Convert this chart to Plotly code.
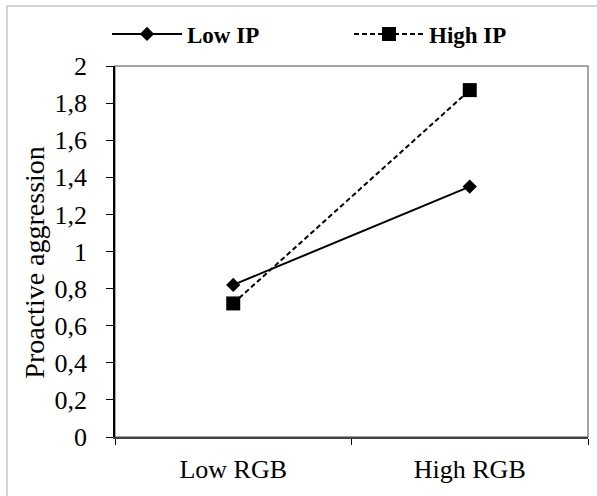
import plotly.graph_objects as go

categories = ["Low RGB", "High RGB"]
low_ip = [0.82, 1.35]
high_ip = [0.72, 1.87]
y_tickvals = [0, 0.2, 0.4, 0.6, 0.8, 1.0, 1.2, 1.4, 1.6, 1.8, 2.0]
y_ticktext = ["0", "0,2", "0,4", "0,6", "0,8", "1", "1,2", "1,4", "1,6", "1,8", "2"]
y_title = "Proactive aggression"

FONT = "Liberation Serif, Times New Roman, serif"

fig = go.Figure()
fig.add_trace(go.Scatter(
    x=categories, y=low_ip, name="Low IP", mode="lines+markers",
    line=dict(color="black", width=2),
    marker=dict(symbol="diamond", size=11, color="black"),
))
fig.add_trace(go.Scatter(
    x=categories, y=high_ip, name="High IP", mode="lines+markers",
    line=dict(color="black", width=2, dash="5px,3px"),
    marker=dict(symbol="square", size=14, color="black"),
))

W, H = 597, 496
L, R, T, B = 115, 9, 66, 59
PW, PH = W - L - R, H - T - B

fig.update_layout(
    width=W, height=H,
    margin=dict(l=L, r=R, t=T, b=B, pad=0, autoexpand=False),
    paper_bgcolor="white", plot_bgcolor="white",
    font=dict(family=FONT, color="black", size=26),
    showlegend=True,
    legend=dict(
        orientation="h", x=(107 - L) / PW, xanchor="left",
        y=1 + (T - 34) / PH, yanchor="middle",
        font=dict(family=FONT, size=23, color="black", weight="bold"),
        itemwidth=70, entrywidth=157, entrywidthmode="pixels",
        bgcolor="rgba(0,0,0,0)", tracegroupgap=0,
    ),
    xaxis=dict(
        type="category", range=[-0.5, 1.5], tickson="boundaries",
        showline=True, linecolor="#404040", linewidth=2,
        ticks="outside", ticklen=6, tickcolor="black", tickwidth=1,
        showgrid=False, zeroline=False, automargin=False,
        tickfont=dict(family=FONT, size=26, color="black"),
        ticklabelstandoff=8,
    ),
    yaxis=dict(
        range=[0, 2], tickvals=y_tickvals, ticktext=y_ticktext,
        showline=True, linecolor="black", linewidth=1.5,
        ticks="outside", ticklen=7, tickcolor="black", tickwidth=1,
        showgrid=False, zeroline=False, automargin=False,
        tickfont=dict(family=FONT, size=26, color="black"),
        ticklabelstandoff=14,
    ),
    annotations=[
        dict(text=y_title, xref="paper", yref="paper",
             x=(35 - L) / PW, y=0.47, xanchor="center", yanchor="middle",
             textangle=-90, showarrow=False,
             font=dict(family=FONT, size=28, color="black")),
    ],
    shapes=[
        dict(type="rect", xref="paper", yref="paper", x0=0, x1=1, y0=0, y1=1,
             line=dict(color="#888888", width=1.5), layer="below"),
        dict(type="rect", xref="paper", yref="paper",
             x0=(7 - L) / PW, x1=(W + 20 - L) / PW,
             y0=-(B + 20) / PH, y1=1 + (T - 6) / PH,
             line=dict(color="#aaaaaa", width=1), layer="below"),
    ],
)

fig.write_html(
    "out.html",
    config={"displayModeBar": False},
    post_script="document.body.style.margin='0';document.body.style.overflow='hidden';",
)
